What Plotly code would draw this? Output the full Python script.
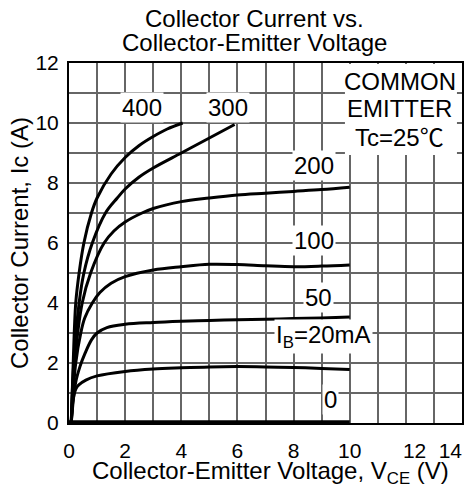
import plotly.graph_objects as go

# ---- data ----
ib_labels = ["400", "300", "200", "100", "50", "I<sub>B</sub>=20mA", "0"]

vce_400 = [0.08, 0.15, 0.24, 0.36, 0.53, 0.8, 1.0, 1.5, 2.0, 2.5, 3.0, 3.5, 4.05]
ic_400 = [0.0, 2.0, 4.0, 5.0, 6.0, 7.0, 7.5, 8.3, 8.85, 9.25, 9.55, 9.8, 10.0]

vce_300 = [0.08, 0.17, 0.36, 0.53, 0.83, 1.3, 1.72, 2.0, 2.5, 3.0, 4.0, 5.0, 5.9]
ic_300 = [0.0, 2.0, 4.0, 5.0, 6.0, 7.0, 7.5, 7.8, 8.2, 8.5, 9.0, 9.5, 9.95]

vce_200 = [0.08, 0.2, 0.47, 0.77, 1.25, 1.6, 2.0, 2.6, 3.0, 4.0, 5.0, 6.0, 7.0, 8.0, 9.0, 10.0]
ic_200 = [0.0, 2.0, 4.0, 5.0, 6.0, 6.4, 6.7, 7.0, 7.15, 7.38, 7.5, 7.6, 7.66, 7.72, 7.78, 7.86]

vce_100 = [0.08, 0.24, 0.42, 0.56, 0.83, 1.1, 1.5, 2.0, 3.0, 4.0, 5.0, 6.0, 7.0, 8.0, 9.0, 10.0]
ic_100 = [0.0, 2.0, 3.0, 3.5, 4.0, 4.35, 4.66, 4.88, 5.1, 5.21, 5.29, 5.28, 5.24, 5.21, 5.23, 5.27]

vce_50 = [0.08, 0.23, 0.39, 0.57, 0.8, 1.0, 1.35, 2.0, 3.0, 4.0, 5.0, 6.0, 7.0, 8.0, 9.0, 10.0]
ic_50 = [0.0, 1.32, 1.88, 2.32, 2.77, 3.0, 3.18, 3.29, 3.35, 3.39, 3.42, 3.44, 3.46, 3.48, 3.5, 3.53]

vce_20 = [0.08, 0.15, 0.25, 0.35, 0.6, 1.0, 2.0, 3.0, 4.0, 5.0, 6.0, 7.0, 8.0, 9.0, 10.0]
ic_20 = [0.0, 0.8, 1.15, 1.27, 1.43, 1.57, 1.72, 1.8, 1.84, 1.87, 1.88, 1.87, 1.85, 1.82, 1.78]

vce_0 = [0.0, 10.0]
ic_0 = [0.04, 0.04]

# label anchor positions (data units)
label_x = [2.6, 5.66, 8.73, 8.73, 8.9, 9.08, 9.33]
label_y = [10.53, 10.53, 8.6, 6.07, 4.17, 2.87, 0.77]

note_lines = ["COMMON", "EMITTER", "Tc=25℃"]
note_x = 11.79
note_y = [11.4, 10.48, 9.52]
note_box = dict(x0=9.83, x1=13.82, y0=8.93, y1=11.97)

title_lines = ["Collector Current vs.", "Collector-Emitter Voltage"]
title_x = 0.473   # fraction of plot width
title_y = [1.124, 1.058]

x_title = "Collector-Emitter Voltage, V<sub>CE</sub> (V)"
x_title_pos = (0.5115, -0.137)

x_ticks = list(range(0, 15))
x_ticktext = ["0", "", "2", "", "4", "", "6", "", "8", "", "10", "",
              "\u00a0\u00a0\u00a012", "", "14\u00a0\u00a0\u00a0\u00a0"]
y_ticks = list(range(0, 13))
y_ticktext = [str(v) if v % 2 == 0 else "" for v in y_ticks]
dark_grid_y = [3, 7]

FONT = "Liberation Sans, Arial, Noto Sans CJK JP, sans-serif"
TXT = 24

fig = go.Figure()
series = [(vce_400, ic_400), (vce_300, ic_300), (vce_200, ic_200), (vce_100, ic_100),
          (vce_50, ic_50), (vce_20, ic_20), (vce_0, ic_0)]
for xs, ys in series:
    fig.add_trace(go.Scatter(x=xs, y=ys, mode="lines",
                             line=dict(color="black", width=3, shape="spline", smoothing=1.0),
                             showlegend=False, hoverinfo="skip"))

for yv in dark_grid_y:
    fig.add_shape(type="line", xref="paper", yref="y", x0=0, x1=1, y0=yv, y1=yv,
                  line=dict(color="black", width=1), layer="between")

fig.add_shape(type="rect", xref="x", yref="y", line=dict(width=0),
              fillcolor="white", layer="between", **note_box)

for t, xv, yv in zip(ib_labels, label_x, label_y):
    fig.add_annotation(x=xv, y=yv, xref="x", yref="y", text=t, showarrow=False,
                       font=dict(size=TXT, color="black", family=FONT),
                       bgcolor="white", borderpad=1)

for t, yv in zip(note_lines, note_y):
    fig.add_annotation(x=note_x, y=yv, xref="x", yref="y", text=t, showarrow=False,
                       font=dict(size=TXT, color="black", family=FONT))

for t, yv in zip(title_lines, title_y):
    fig.add_annotation(x=title_x, y=yv, xref="paper", yref="paper", text=t, showarrow=False,
                       xanchor="center", yanchor="middle",
                       font=dict(size=TXT, color="black", family=FONT))

fig.add_annotation(x=x_title_pos[0], y=x_title_pos[1], xref="paper", yref="paper",
                   text=x_title, showarrow=False, xanchor="center", yanchor="middle",
                   font=dict(size=TXT, color="black", family=FONT))

axis_common = dict(showline=True, mirror=True, linecolor="black", linewidth=2,
                   showgrid=True, gridcolor="#666666", gridwidth=1.5, automargin=False,
                   zeroline=False, ticks="", tickfont=dict(size=21, color="black", family=FONT))

fig.update_layout(
    width=470, height=486,
    margin=dict(l=69, r=8, t=63, b=63, autoexpand=False),
    paper_bgcolor="white", plot_bgcolor="white",
    font=dict(family=FONT, color="black"),
    xaxis=dict(range=[0, 14], tickmode="array", tickvals=x_ticks, ticktext=x_ticktext,
               ticklabelstandoff=8, ticklabeloverflow="allow",
               **axis_common),
    yaxis=dict(range=[0, 12], tickmode="array", tickvals=y_ticks, ticktext=y_ticktext,
               ticklabelstandoff=4,
               title=dict(text="Collector Current, Ic (A)",
                          font=dict(size=TXT, color="black", family=FONT), standoff=0),
               **axis_common),
)

fig.write_html("out.html", config={"displayModeBar": False},
               post_script="document.body.style.margin='0';")
